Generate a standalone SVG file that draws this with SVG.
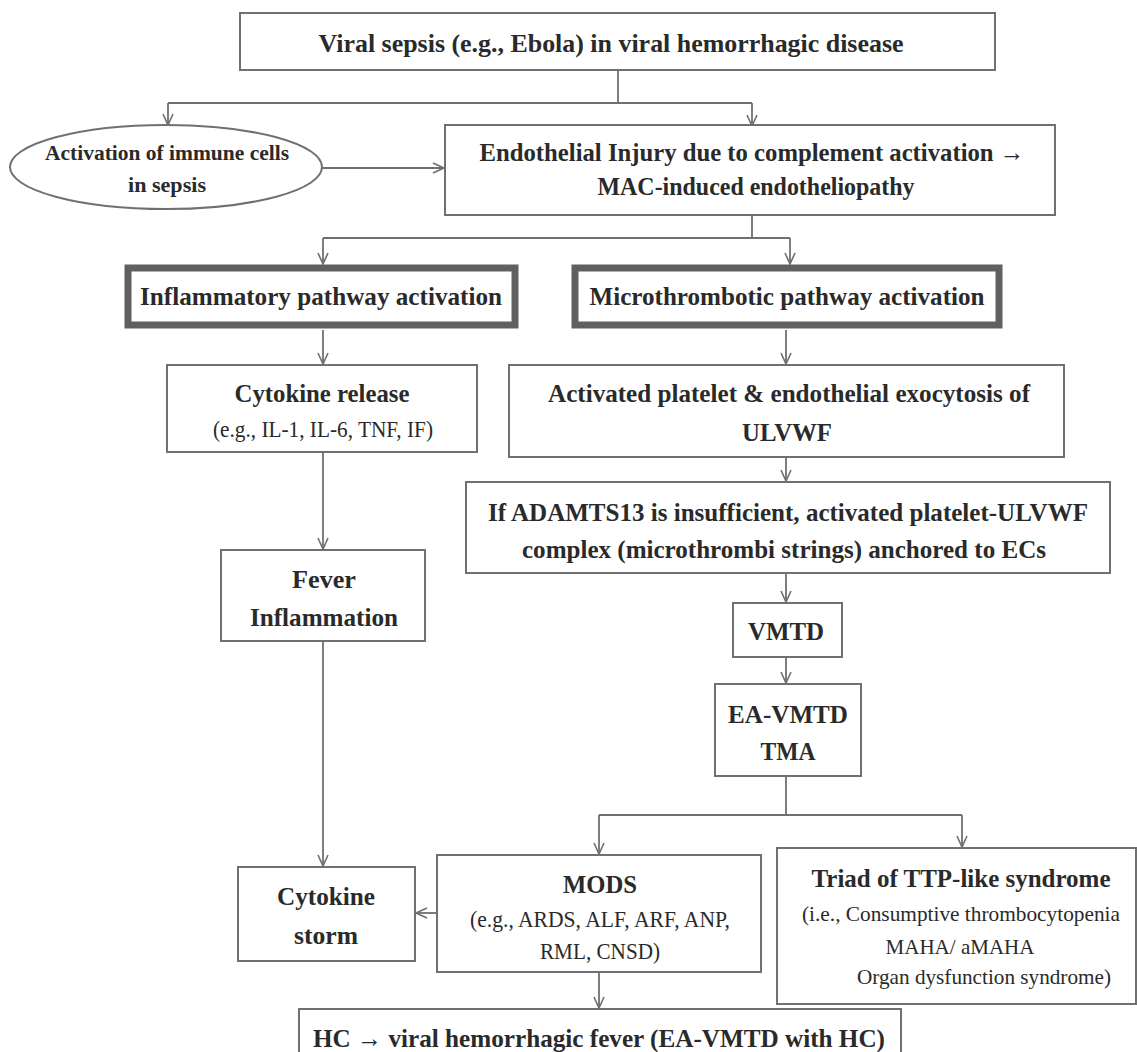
<svg xmlns="http://www.w3.org/2000/svg" width="1137" height="1052" viewBox="0 0 1137 1052">
<style>
.box{fill:#fff;stroke:#707070;stroke-width:2}
.thick{fill:#fff;stroke:#606060;stroke-width:7}
.t{font-family:"Liberation Serif","Times New Roman",serif;font-weight:bold;font-size:26px;fill:#2a2a2a;text-anchor:middle}
.r{font-family:"Liberation Serif","Times New Roman",serif;font-weight:normal;font-size:23px;fill:#2a2a2a;text-anchor:middle}
.s{font-size:21px}
.e{font-family:"Liberation Serif","Times New Roman",serif;font-weight:bold;font-size:21px;fill:#2a2a2a;text-anchor:middle}
.c{fill:none;stroke:#707070;stroke-width:1.8}
</style>
<defs>
<marker id="ah" markerUnits="userSpaceOnUse" markerWidth="14" markerHeight="14" refX="12" refY="6" orient="auto">
<path d="M1,1 L12,6 L1,11" fill="none" stroke="#707070" stroke-width="1.6"/>
</marker>
</defs>
<rect width="1137" height="1052" fill="#fff"/>

<g id="connectors">
<path class="c" d="M618,70 V103 M168,103 H752"/>
<path class="c" d="M168,103 V125" marker-end="url(#ah)"/>
<path class="c" d="M752,103 V126" marker-end="url(#ah)"/>
<path class="c" d="M322,168 H444" marker-end="url(#ah)"/>
<path class="c" d="M752,215 V238 M323,238 H790"/>
<path class="c" d="M323,238 V264" marker-end="url(#ah)"/>
<path class="c" d="M790,238 V264" marker-end="url(#ah)"/>
<path class="c" d="M323,330 V364" marker-end="url(#ah)"/>
<path class="c" d="M786,330 V364" marker-end="url(#ah)"/>
<path class="c" d="M786,457 V481" marker-end="url(#ah)"/>
<path class="c" d="M323,452 V549" marker-end="url(#ah)"/>
<path class="c" d="M786,573 V602" marker-end="url(#ah)"/>
<path class="c" d="M786,657 V683" marker-end="url(#ah)"/>
<path class="c" d="M323,641 V866" marker-end="url(#ah)"/>
<path class="c" d="M786,776 V815 M599,815 H962"/>
<path class="c" d="M599,815 V854" marker-end="url(#ah)"/>
<path class="c" d="M962,815 V847" marker-end="url(#ah)"/>
<path class="c" d="M437,913 H416" marker-end="url(#ah)"/>
<path class="c" d="M599,972 V1008" marker-end="url(#ah)"/>
</g>

<g id="n-top">
<rect class="box" x="240" y="13" width="755" height="57"/>
<text class="t" x="611" y="52" textLength="585" lengthAdjust="spacingAndGlyphs">Viral sepsis (e.g., Ebola) in viral hemorrhagic disease</text>
</g>

<g id="n-immune">
<ellipse class="box" cx="166" cy="167" rx="156" ry="42"/>
<text class="e" x="167" y="160" textLength="244" lengthAdjust="spacingAndGlyphs">Activation of immune cells</text>
<text class="e" x="167" y="192" textLength="78" lengthAdjust="spacingAndGlyphs">in sepsis</text>
</g>

<g id="n-endo">
<rect class="box" x="445" y="125" width="610" height="90"/>
<text class="t" x="752" y="161" textLength="545" lengthAdjust="spacingAndGlyphs">Endothelial Injury due to complement activation →</text>
<text class="t" x="756" y="195" textLength="317" lengthAdjust="spacingAndGlyphs">MAC-induced endotheliopathy</text>
</g>

<g id="n-inflam">
<rect class="thick" x="128" y="268" width="387" height="57"/>
<text class="t" x="321" y="305" textLength="362" lengthAdjust="spacingAndGlyphs">Inflammatory pathway activation</text>
</g>

<g id="n-micro">
<rect class="thick" x="575" y="268" width="424" height="57"/>
<text class="t" x="787" y="305" textLength="395" lengthAdjust="spacingAndGlyphs">Microthrombotic pathway activation</text>
</g>

<g id="n-cytorel">
<rect class="box" x="167" y="365" width="310" height="87"/>
<text class="t" x="322" y="402" textLength="175" lengthAdjust="spacingAndGlyphs">Cytokine release</text>
<text class="r" x="323" y="437" textLength="220" lengthAdjust="spacingAndGlyphs">(e.g., IL-1, IL-6, TNF, IF)</text>
</g>

<g id="n-platelet">
<rect class="box" x="509" y="365" width="555" height="92"/>
<text class="t" x="789" y="402" textLength="482" lengthAdjust="spacingAndGlyphs">Activated platelet &amp; endothelial exocytosis of</text>
<text class="t" x="787" y="441" textLength="90" lengthAdjust="spacingAndGlyphs">ULVWF</text>
</g>

<g id="n-adamts">
<rect class="box" x="466" y="482" width="644" height="91"/>
<text class="t" x="788" y="521" textLength="600" lengthAdjust="spacingAndGlyphs">If ADAMTS13 is insufficient, activated platelet-ULVWF</text>
<text class="t" x="784" y="558" textLength="524" lengthAdjust="spacingAndGlyphs">complex (microthrombi strings) anchored to ECs</text>
</g>

<g id="n-fever">
<rect class="box" x="221" y="550" width="204" height="91"/>
<text class="t" x="324" y="588" textLength="64" lengthAdjust="spacingAndGlyphs">Fever</text>
<text class="t" x="324" y="626" textLength="148" lengthAdjust="spacingAndGlyphs">Inflammation</text>
</g>

<g id="n-vmtd">
<rect class="box" x="733" y="603" width="109" height="54"/>
<text class="t" x="786" y="640" textLength="76" lengthAdjust="spacingAndGlyphs">VMTD</text>
</g>

<g id="n-eavmtd">
<rect class="box" x="715" y="684" width="146" height="92"/>
<text class="t" x="788" y="723" textLength="120" lengthAdjust="spacingAndGlyphs">EA-VMTD</text>
<text class="t" x="788" y="760" textLength="55" lengthAdjust="spacingAndGlyphs">TMA</text>
</g>

<g id="n-storm">
<rect class="box" x="238" y="867" width="177" height="94"/>
<text class="t" x="326" y="905" textLength="98" lengthAdjust="spacingAndGlyphs">Cytokine</text>
<text class="t" x="326" y="944" textLength="64" lengthAdjust="spacingAndGlyphs">storm</text>
</g>

<g id="n-mods">
<rect class="box" x="437" y="855" width="324" height="117"/>
<text class="t" x="600" y="893" textLength="74" lengthAdjust="spacingAndGlyphs">MODS</text>
<text class="r" x="600" y="927" textLength="260" lengthAdjust="spacingAndGlyphs">(e.g., ARDS, ALF, ARF, ANP,</text>
<text class="r" x="600" y="959" textLength="120" lengthAdjust="spacingAndGlyphs">RML, CNSD)</text>
</g>

<g id="n-triad">
<rect class="box" x="777" y="848" width="359" height="156"/>
<text class="t" x="961" y="887" textLength="299" lengthAdjust="spacingAndGlyphs">Triad of TTP-like syndrome</text>
<text class="r s" x="961" y="921" textLength="318" lengthAdjust="spacingAndGlyphs">(i.e., Consumptive thrombocytopenia</text>
<text class="r s" x="960" y="954" textLength="149" lengthAdjust="spacingAndGlyphs">MAHA/ aMAHA</text>
<text class="r s" x="984" y="984" textLength="254" lengthAdjust="spacingAndGlyphs">Organ dysfunction syndrome)</text>
</g>

<g id="n-hc">
<rect class="box" x="299" y="1009" width="602" height="60"/>
<text class="t" x="599" y="1047" textLength="572" lengthAdjust="spacingAndGlyphs">HC → viral hemorrhagic fever (EA-VMTD with HC)</text>
</g>
</svg>
